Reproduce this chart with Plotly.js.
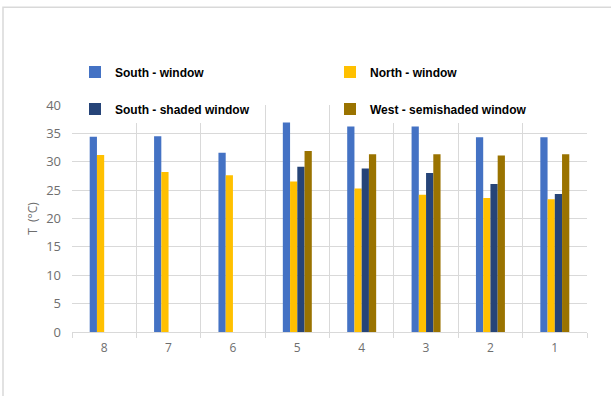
<!DOCTYPE html>
<html>
<head>
<meta charset="utf-8">
<script src="https://cdn.plot.ly/plotly-3.0.1.min.js"></script>
<style>html,body{margin:0;padding:0;background:#fff;}#chart{width:611px;height:396px;}</style>
</head>
<body>
<div id="chart"></div>
<script>
const categories = ["8", "7", "6", "5", "4", "3", "2", "1"];
const southWindow = [34.4, 34.5, 31.6, 36.9, 36.2, 36.2, 34.3, 34.3];
const northWindow = [31.2, 28.2, 27.6, 26.5, 25.3, 24.2, 23.6, 23.4];
const southShaded = [null, null, null, 29.1, 28.8, 28.0, 26.1, 24.3];
const westSemishaded = [null, null, null, 31.9, 31.3, 31.3, 31.1, 31.3];
const seriesNames = ["South - window", "North - window", "South - shaded window", "West - semishaded window"];
const yTicks = [0, 5, 10, 15, 20, 25, 30, 35, 40];

const colors = ["#4472C4", "#FFC000", "#264478", "#9A7300"];
const allValues = [southWindow, northWindow, southShaded, westSemishaded];
const legendIds = ["legend", "legend2", "legend3", "legend4"];

const traces = allValues.map((vals, i) => ({
  type: "bar",
  name: seriesNames[i],
  x: categories,
  y: vals,
  marker: {color: colors[i]},
  legend: legendIds[i],
  hoverinfo: "x+y+name"
}));

const W = 611, H = 396, L = 72, R = 24, T = 105, B = 63.5;
const pw = W - L - R, ph = H - T - B;
const px = x => (x - L) / pw;
const py = y => (H - B - y) / ph;

const legFont = {family: "'Liberation Sans', Arial, sans-serif", size: 12, color: "#000", weight: "bold"};
function leg(xp, yp) {
  return {x: px(xp), y: py(yp), xanchor: "left", yanchor: "middle", xref: "paper", yref: "paper",
          bgcolor: "#ffffff", borderwidth: 0, font: legFont, itemwidth: 30, orientation: "h",
          tracegroupgap: 0, itemclick: false};
}

const nb = "\u00a0";
const layout = {
  width: W, height: H,
  margin: {l: L, r: R, t: T, b: B, pad: 0},
  paper_bgcolor: "#ffffff",
  plot_bgcolor: "#ffffff",
  barmode: "group",
  bargap: 0.55,
  bargroupgap: 0,
  showlegend: true,
  legend: leg(75, 72),
  legend2: leg(330, 72),
  legend3: leg(75, 109),
  legend4: leg(330, 109),
  xaxis: {
    type: "category",
    tickson: "boundaries",
    ticks: "outside",
    ticklen: 5,
    tickcolor: "#d9d9d9",
    showgrid: true,
    gridcolor: "#d9d9d9",
    gridwidth: 1,
    showline: true,
    linecolor: "#d9d9d9",
    linewidth: 1,
    tickfont: {family: "'Open Sans', 'Liberation Sans', sans-serif", size: 12, color: "#6e6e6e"},
    ticklabelstandoff: 5,
    fixedrange: true
  },
  yaxis: {
    range: [0, 40],
    tickvals: yTicks,
    ticktext: yTicks.map(String),
    showgrid: true,
    gridcolor: "#d9d9d9",
    gridwidth: 1,
    zeroline: false,
    showline: false,
    ticks: "",
    tickfont: {family: "'Open Sans', 'Liberation Sans', sans-serif", size: 13, color: "#6e6e6e"},
    ticklabelstandoff: 10,
    title: {text: "T" + nb + nb + "(°C)" + nb.repeat(10), font: {family: "'Open Sans', 'Liberation Sans', sans-serif", size: 12, color: "#6e6e6e"}, standoff: 5},
    fixedrange: true
  },
  shapes: [{
    type: "rect", xref: "paper", yref: "paper",
    x0: px(3), x1: px(640), y0: py(7), y1: py(420),
    line: {color: "#d9d9d9", width: 1.5},
    fillcolor: "rgba(0,0,0,0)",
    layer: "below"
  }]
};

Plotly.newPlot("chart", traces, layout, {displayModeBar: false, staticPlot: true});
</script>
</body>
</html>
